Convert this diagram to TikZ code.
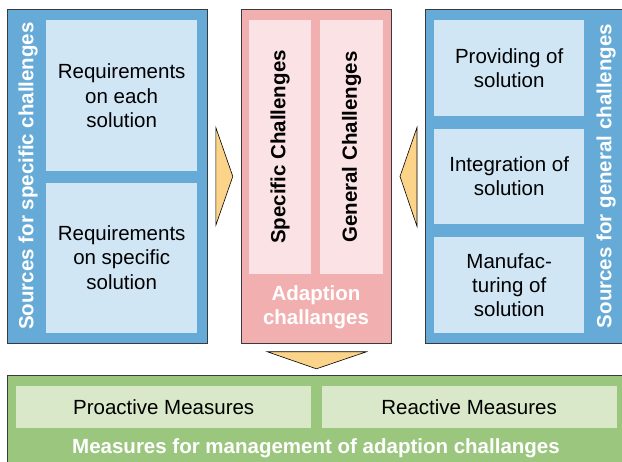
\documentclass[tikz,border=0pt]{standalone}
\usepackage{fontspec}
\setmainfont{Liberation Sans}
\usepackage{tikz}
\usetikzlibrary{positioning,calc}

\definecolor{srcblue}{HTML}{66ABD7}
\definecolor{itemblue}{HTML}{D0E6F5}
\definecolor{chpink}{HTML}{F2AFB0}
\definecolor{itempink}{HTML}{FBE3E5}
\definecolor{msgreen}{HTML}{9BC67E}
\definecolor{itemgreen}{HTML}{D8E8C8}
\definecolor{arrowtan}{HTML}{FBD48A}
\definecolor{edgegray}{HTML}{3A3A3A}

\newcommand\boxfont{\fontsize{20.5}{24.3}\selectfont}

\begin{document}
\begin{tikzpicture}[
    x=1pt, y=-1pt,
    panel/.style={rectangle, draw=edgegray, line width=0.8pt, inner sep=0pt, anchor=north west},
    item/.style={rectangle, inner sep=0pt, anchor=north west, align=center, font=\boxfont},
    caption/.style={text=white, font=\boxfont\bfseries, align=center, inner sep=0pt},
    flowarrow/.style={draw=black, line width=0.6pt, fill=arrowtan, line join=miter}
]
    \useasboundingbox (0,0) rectangle (622,462);

    % Sources for specific challenges
    \node[panel, fill=srcblue, minimum width=200pt, minimum height=334pt] (specsrc) at (7,9) {};
    \node[item, fill=itemblue, minimum width=151pt, minimum height=151pt] (reqeach) at (46,20) {Requirements\\on each\\solution};
    \node[item, fill=itemblue, minimum width=151pt, minimum height=150pt, below=11pt of reqeach] (reqspec) {Requirements\\on specific\\solution};
    \node[caption, rotate=90] (specsrclbl) at (28,176) {Sources for specific challenges};

    % Adaption challanges
    \node[panel, fill=chpink, minimum width=150pt, minimum height=334pt] (adapt) at (241,9) {};
    \node[item, fill=itempink, anchor=center, rotate=90, minimum width=254pt, minimum height=62pt, font=\boxfont\bfseries] (specch) at (280,147) {Specific Challenges};
    \node[item, fill=itempink, anchor=center, rotate=90, minimum width=254pt, minimum height=63pt, font=\boxfont\bfseries] (gench) at (351.5,147) {General Challenges};
    \node[caption] (adaptlbl) at (316,307) {Adaption\\challanges};

    % Sources for general challenges
    \node[panel, fill=srcblue, minimum width=212pt, minimum height=334pt] (gensrc) at (425,9) {};
    \node[item, fill=itemblue, minimum width=150pt, minimum height=96pt] (provide) at (434,20) {Providing of\\solution};
    \node[item, fill=itemblue, minimum width=150pt, minimum height=95pt, below=12pt of provide] (integr) {Integration of\\solution};
    \node[item, fill=itemblue, minimum width=150pt, minimum height=96pt, below=13pt of integr] (manuf) {Manufac-\\turing of\\solution};
    \node[caption, rotate=90] (gensrclbl) at (606,176) {Sources for general challenges};

    % Measures
    \node[panel, fill=msgreen, minimum width=630pt, minimum height=100pt] (measures) at (7,375) {};
    \node[item, fill=itemgreen, minimum width=295pt, minimum height=42pt] (proact) at (16,386) {Proactive Measures};
    \node[item, fill=itemgreen, minimum width=295pt, minimum height=42pt, right=10pt of proact] (react) {Reactive Measures};
    \node[caption] (measureslbl) at (316,448) {Measures for management of adaption challanges};

    % Block arrows
    \draw[flowarrow] ($(specsrc.east)+(8,-49)$) -- ($(specsrc.east)+(25,0)$) -- ($(specsrc.east)+(8,49)$) -- cycle;
    \draw[flowarrow] ($(gensrc.west)+(-8,-49)$) -- ($(gensrc.west)+(-25,0)$) -- ($(gensrc.west)+(-8,50)$) -- cycle;
    \draw[flowarrow] ($(adapt.south)+(-49,8)$) -- ($(adapt.south)+(50,8)$) -- ($(adapt.south)+(0,25)$) -- cycle;
\end{tikzpicture}
\end{document}
